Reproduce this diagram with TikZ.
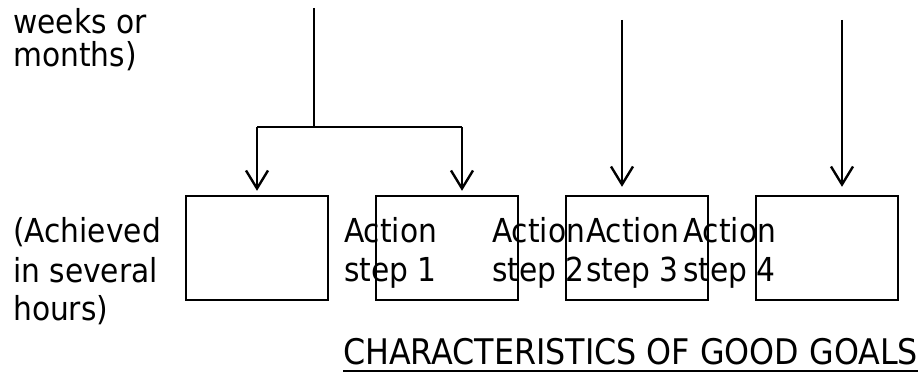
\documentclass[tikz,border=0pt]{standalone}
\usepackage{fontspec}
\setmainfont{DejaVu Sans Condensed}
\usetikzlibrary{arrows.meta}
\begin{document}
\begin{tikzpicture}[x=1pt,y=-1pt,
  every node/.style={inner sep=0pt, font=\fontsize{33}{39}\selectfont},
  stepbox/.style={draw, line width=2.4pt, minimum width=142pt, minimum height=104pt},
  conn/.style={line width=2.4pt},
  arr/.style={conn, -{Straight Barb[length=18pt,width=22pt]}},
  lbl/.style={anchor=base west, align=left}]
\useasboundingbox (0,0) rectangle (922,374);
\node[stepbox] (b1) at (257,248) {};
\node[stepbox] (b2) at (447,248) {};
\node[stepbox] (b3) at (637,248) {};
\node[stepbox] (b4) at (827,248) {};
\coordinate (top) at (314,8);
\coordinate (bl) at (257,127);
\coordinate (br) at (462,127);
\coordinate (a3) at (622,20);
\coordinate (a4) at (842,20);
\draw[conn] (top) -- (top |- bl);
\draw[conn] (bl) -- (br);
\draw[arr, shorten >=4pt] (bl) -- (bl |- b1.north);
\draw[arr, shorten >=4pt] (br) -- (br |- b2.north);
\draw[arr, shorten >=8pt] (a3) -- (a3 |- b3.north);
\draw[arr, shorten >=8pt] (a4) -- (a4 |- b4.north);
\node[lbl, font=\fontsize{33}{33}\selectfont] (t0) at (13,67) {weeks or\\months)};
\node[lbl] (t1) at (13,321) {(Achieved\\in several\\hours)};
\node[lbl] (s1) at (344,282) {Action\\step 1};
\node[lbl] (s2) at (492,282) {Action\\step 2};
\node[lbl] (s3) at (586,282) {Action\\step 3};
\node[lbl] (s4) at (683,282) {Action\\step 4};
\node[anchor=base west, font=\fontsize{35.3}{40}\selectfont] (title) at (343,365) {CHARACTERISTICS OF GOOD GOALS};
\draw[conn] ([yshift=-6pt]title.base west) -- ([yshift=-6pt]title.base east);
\end{tikzpicture}
\end{document}
